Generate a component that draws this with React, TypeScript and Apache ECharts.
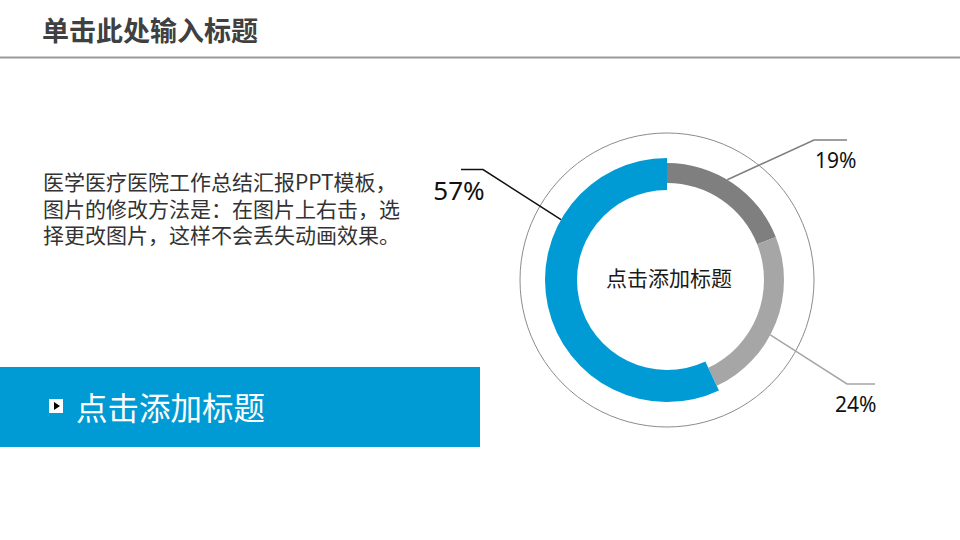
import React, { useEffect, useRef } from "react";
import * as echarts from "echarts";

// ---- data ----
const SLICE_NAMES = ["部分一", "部分二", "部分三"];
const SLICE_VALUES = [19, 24, 57];
const TITLE = "单击此处输入标题";
const PARAGRAPH_LINES = [
  "医学医疗医院工作总结汇报PPT模板，",
  "图片的修改方法是：在图片上右击，选",
  "择更改图片，这样不会丢失动画效果。",
];
const CENTER_TEXT = "点击添加标题";
const BOX_TEXT = "点击添加标题";

// ---- styles / layout ----
const FONT = '"Noto Sans CJK SC", "Noto Sans", sans-serif';
const LABEL_FONT = '"Noto Sans", "Noto Sans CJK SC", sans-serif';
const BLUE = "#009BD5";
const DARK_GRAY = "#7F7F7F";
const LIGHT_GRAY = "#A6A6A6";
const SLICE_COLORS = [DARK_GRAY, LIGHT_GRAY, BLUE];
const CX = 667;
const CY = 280;
const GRAY_RADIUS = [97, 117];
const BLUE_RADIUS = [90, 122];

// label leader geometry: start angle (deg clockwise from top) on ring radius, elbow, end
const LEADERS: Record<number, any> = {
  0: { angle: 31, r: 117, elbow: [814, 140], end: [847, 140], text: [815, 159.5], align: "left", size: 21, color: DARK_GRAY, width: 1.6 },
  1: { angle: 118, r: 117, elbow: [847, 384], end: [875, 384], text: [835, 404], align: "left", size: 21, color: LIGHT_GRAY, width: 1.5 },
  2: { angle: 299.7, r: 122, elbow: [483, 169.5], end: [461, 169.5], text: [459, 190], align: "center", size: 26, color: "#111111", width: 1.5 },
};

function ringPoint(angle: number, r: number): [number, number] {
  const a = (angle * Math.PI) / 180;
  return [CX + r * Math.sin(a), CY - r * Math.cos(a)];
}

function labelLayout(params: any) {
  const g = LEADERS[params.dataIndex];
  if (!g) return {};
  return {
    x: g.text[0],
    y: g.text[1],
    align: g.align,
    verticalAlign: "middle",
    labelLinePoints: [ringPoint(g.angle, g.r), g.elbow, g.end],
  };
}

function buildData(visibleIdx: number[]) {
  return SLICE_VALUES.map((v, i) => {
    const visible = visibleIdx.includes(i);
    const g = LEADERS[i];
    return {
      name: SLICE_NAMES[i],
      value: v,
      itemStyle: { color: visible ? SLICE_COLORS[i] : "rgba(0,0,0,0)" },
      label: {
        show: visible,
        fontSize: g.size,
        color: "#111111",
        fontFamily: LABEL_FONT,
      },
      labelLine: {
        show: visible,
        lineStyle: { color: g.color, width: g.width },
      },
    };
  });
}

export default function App() {
  const ref = useRef<HTMLDivElement>(null);

  useEffect(() => {
    if (!ref.current) return;
    const chart = echarts.init(ref.current, undefined, { renderer: "svg" });

    const graphics: any[] = [
      {
        type: "text",
        left: 42,
        top: 16,
        style: { text: TITLE, fill: "#404040", font: `bold 27px ${FONT}` },
      },
      {
        type: "rect",
        shape: { x: 0, y: 56.5, width: 960, height: 2 },
        style: { fill: "#9A9A9A" },
      },
      {
        type: "text",
        x: 43,
        y: 168,
        style: {
          text: PARAGRAPH_LINES.join("\n"),
          font: `21px ${FONT}`,
          lineHeight: 26.5,
          fill: "#333333",
          verticalAlign: "top",
          align: "left",
        },
      },
      {
        type: "rect",
        shape: { x: 0, y: 367, width: 480, height: 80 },
        style: { fill: BLUE },
      },
      {
        type: "rect",
        shape: { x: 49, y: 399, width: 14, height: 14 },
        style: { fill: "#ffffff" },
      },
      {
        type: "polygon",
        shape: { points: [[54, 402], [60, 406], [54, 410]] },
        style: { fill: "#000000" },
      },
      {
        type: "text",
        x: 76,
        y: 406,
        style: { text: BOX_TEXT, font: `31.5px ${FONT}`, fill: "#ffffff", verticalAlign: "middle", align: "left" },
      },
      {
        type: "circle",
        shape: { cx: CX, cy: CY, r: 147 },
        style: { fill: "none", stroke: "#8C8C8C", lineWidth: 1 },
      },
      {
        type: "text",
        x: 669,
        y: 277,
        style: { text: CENTER_TEXT, font: `21px ${FONT}`, fill: "#1a1a1a", verticalAlign: "middle", align: "center" },
      },
    ];

    chart.setOption({
      animation: false,
      backgroundColor: "#ffffff",
      graphic: graphics,
      series: [
        {
          type: "pie",
          center: [CX, CY],
          radius: GRAY_RADIUS,
          startAngle: 90,
          clockwise: true,
          avoidLabelOverlap: false,
          silent: true,
          emphasis: { disabled: true },
          label: { position: "outside", formatter: "{c}%" },
          labelLayout,
          data: buildData([0, 1]),
        },
        {
          type: "pie",
          center: [CX, CY],
          radius: BLUE_RADIUS,
          startAngle: 90,
          clockwise: true,
          avoidLabelOverlap: false,
          silent: true,
          emphasis: { disabled: true },
          label: { position: "outside", formatter: "{c}%" },
          labelLayout,
          data: buildData([2]),
        },
      ],
    });

    return () => chart.dispose();
  }, []);

  return (
    <div
      ref={ref}
      style={{ position: "fixed", left: 0, top: 0, width: 960, height: 540, background: "#fff" }}
    />
  );
}
